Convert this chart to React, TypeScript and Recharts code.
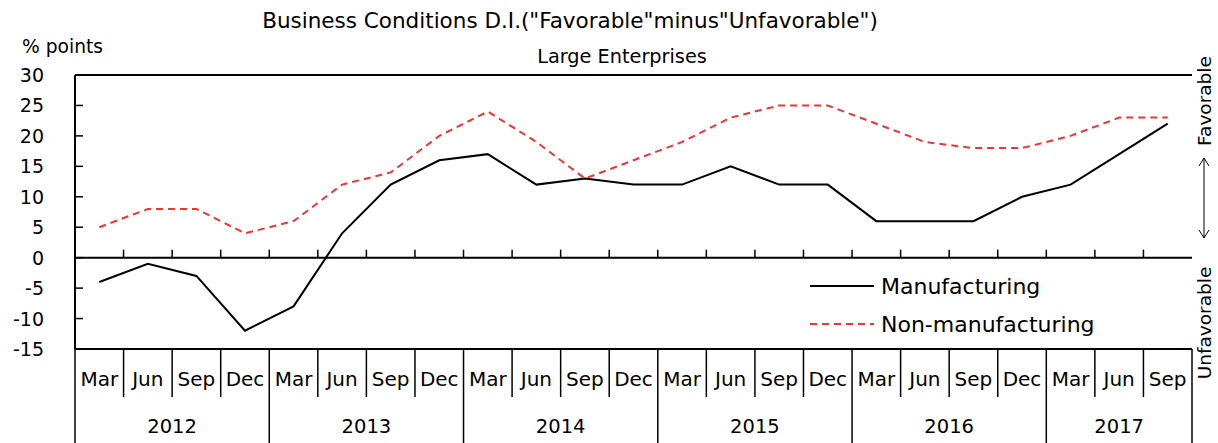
import { LineChart, Line, XAxis, YAxis, CartesianGrid, ReferenceLine, Legend } from 'recharts'

const years = ['2012', '2013', '2014', '2015', '2016', '2017']
const quartersPerYear = [4, 4, 4, 4, 4, 3]
const months = ['Mar', 'Jun', 'Sep', 'Dec']

const manufacturing = [-4, -1, -3, -12, -8, 4, 12, 16, 17, 12, 13, 12, 12, 15, 12, 12, 6, 6, 6, 10, 12, 17, 22]
const nonManufacturing = [5, 8, 8, 4, 6, 12, 14, 20, 24, 19, 13, 16, 19, 23, 25, 25, 22, 19, 18, 18, 20, 23, 23]

const yTicks = [-15, -10, -5, 0, 5, 10, 15, 20, 25, 30]
const yMin = -15
const yMax = 30

const W = 1218
const H = 443
const M = { top: 75, right: 26, bottom: 0, left: 0 }
const Y_AXIS_W = 75
const X_AXIS_H = 94
const FONT = '"DejaVu Sans", sans-serif'
const RED = '#f23333'

const data: { month: string; year: string; last: boolean; mfg: number; nonMfg: number }[] = []
years.forEach((y, yi) => {
  for (let q = 0; q < quartersPerYear[yi]; q++) {
    const i = data.length
    data.push({
      month: months[q],
      year: y,
      last: q === quartersPerYear[yi] - 1,
      mfg: manufacturing[i],
      nonMfg: nonManufacturing[i],
    })
  }
})

const plotW = W - M.left - M.right - Y_AXIS_W
const plotH = H - M.top - M.bottom - X_AXIS_H
const band = plotW / data.length

function XTick(props: any) {
  const { x, y, index } = props
  const d = data[index]
  if (!d) return null
  const half = band / 2
  const zeroY = y - ((0 - yMin) / (yMax - yMin)) * plotH
  const n = quartersPerYear[years.indexOf(d.year)]
  // year label goes in the middle of its quarters
  const qIdx = months.indexOf(d.month)
  const isMid = qIdx === Math.floor((n - 1) / 2)
  const yearX = n % 2 === 0 ? x + half : x
  return (
    <g>
      <text x={x} y={y + 37} textAnchor="middle" fontSize={20} fill="#000" fontFamily={FONT}>
        {d.month}
      </text>
      {index === 0 && <line x1={x - half} x2={x - half} y1={y} y2={H} stroke="#000" strokeWidth={1.5} />}
      <line x1={x + half} x2={x + half} y1={y} y2={d.last ? H : y + 48} stroke="#000" strokeWidth={1.5} />
      {index < data.length - 1 && (
        <line x1={x + half} x2={x + half} y1={zeroY} y2={zeroY - 8} stroke="#000" strokeWidth={1.5} />
      )}
      {isMid && (
        <text x={yearX} y={y + 84} textAnchor="middle" fontSize={19.5} fill="#000" fontFamily={FONT}>
          {d.year}
        </text>
      )}
    </g>
  )
}

function YTick(props: any) {
  const { x, y, payload } = props
  return (
    <g>
      <line x1={x} x2={x + 8} y1={y} y2={y} stroke="#000" strokeWidth={1.5} />
      <text x={x - 31} y={y + 7} textAnchor="end" fontSize={19} fill="#000" fontFamily={FONT}>
        {payload.value}
      </text>
    </g>
  )
}

function LegendBox() {
  const row = (label: string, color: string, dash?: string) => (
    <div style={{ display: 'flex', alignItems: 'center', height: 38 }}>
      <svg width={71} height={10}>
        <line x1={0} x2={64} y1={5} y2={5} stroke={color} strokeWidth={2} strokeDasharray={dash} />
      </svg>
      <span style={{ fontSize: 22, fontFamily: FONT, color: '#000' }}>{label}</span>
    </div>
  )
  return (
    <div style={{ background: '#fff', paddingLeft: 80, paddingTop: 4, height: 80 }}>
      {row('Manufacturing', '#000')}
      {row('Non-manufacturing', RED, '7 5')}
    </div>
  )
}

export default function App() {
  return (
    <div style={{ position: 'absolute', left: 0, top: 0, width: W, height: H, background: '#fff' }}>
      <LineChart width={W} height={H} data={data} margin={M}>
        <CartesianGrid vertical={false} stroke="#d4d4d4" />
        <XAxis
          dataKey="month"
          height={X_AXIS_H}
          interval={0}
          padding={{ left: band / 2, right: band / 2 }}
          tickSize={0}
          tickMargin={0}
          tickLine={false}
          axisLine={{ stroke: '#000', strokeWidth: 2 }}
          tick={<XTick />}
        />
        <YAxis
          yAxisId="left"
          width={Y_AXIS_W}
          domain={[yMin, yMax]}
          ticks={yTicks}
          interval={0}
          tickSize={0}
          tickMargin={0}
          tickLine={false}
          axisLine={{ stroke: '#000', strokeWidth: 2 }}
          tick={<YTick />}
        />
        <YAxis
          yAxisId="right"
          orientation="right"
          width={0}
          domain={[yMin, yMax]}
          tick={false}
          tickLine={false}
          axisLine={{ stroke: '#000', strokeWidth: 2 }}
        />
        <ReferenceLine yAxisId="left" y={30} stroke="#000" strokeWidth={2} />
        <ReferenceLine yAxisId="left" y={0} stroke="#000" strokeWidth={2} />
        <Legend
          layout="vertical"
          align="center"
          verticalAlign="middle"
          content={<LegendBox />}
          wrapperStyle={{ left: 730, top: 263, width: 458, height: 82 }}
        />
        <Line
          yAxisId="left"
          dataKey="mfg"
          name="Manufacturing"
          stroke="#000"
          strokeWidth={2}
          dot={false}
          isAnimationActive={false}
        />
        <Line
          yAxisId="left"
          dataKey="nonMfg"
          name="Non-manufacturing"
          stroke={RED}
          strokeWidth={2}
          strokeDasharray="7 5"
          dot={false}
          isAnimationActive={false}
        />
      </LineChart>
      <svg width={W} height={H} style={{ position: 'absolute', left: 0, top: 0, pointerEvents: 'none' }}>
        <text x={570} y={28} textAnchor="middle" fontSize={21.5} fontFamily={FONT} fill="#000">
          Business Conditions D.I.("Favorable"minus"Unfavorable")
        </text>
        <text x={622} y={63} textAnchor="middle" fontSize={19.3} fontFamily={FONT} fill="#000">
          Large Enterprises
        </text>
        <text x={22} y={53} fontSize={18.7} fontFamily={FONT} fill="#000">
          % points
        </text>
        <text x={1211} y={101} textAnchor="middle" fontSize={18.5} fontFamily={FONT} fill="#000" transform="rotate(-90 1211 101)">
          Favorable
        </text>
        <text x={1211} y={323} textAnchor="middle" fontSize={18.5} fontFamily={FONT} fill="#000" transform="rotate(-90 1211 323)">
          Unfavorable
        </text>
        <g stroke="#000" strokeWidth={1} fill="none">
          <line x1={1204} x2={1204} y1={158} y2={238} />
          <polyline points="1199,166 1204,158 1209,166" />
          <polyline points="1199,230 1204,238 1209,230" />
        </g>
      </svg>
    </div>
  )
}
